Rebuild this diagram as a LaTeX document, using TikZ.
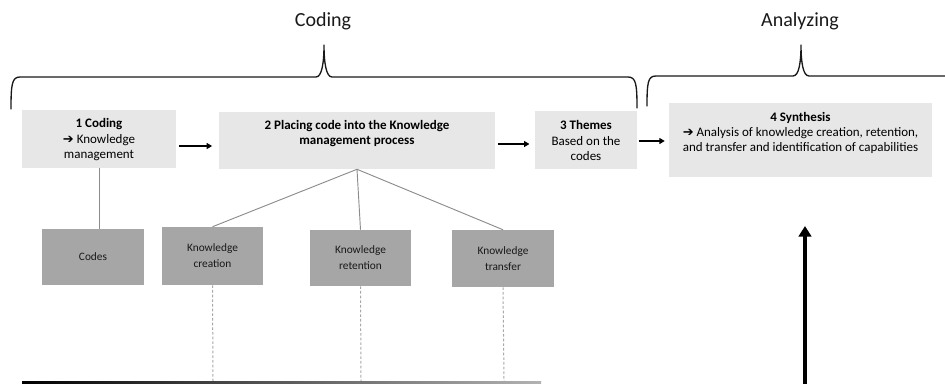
\documentclass[tikz,border=0pt]{standalone}
\usepackage{fontspec}
\setmainfont{Carlito}
\newfontfamily\arrowfont{DejaVu Sans}
\usetikzlibrary{arrows.meta}
\definecolor{boxlight}{HTML}{E7E7E7}
\definecolor{boxdark}{HTML}{A6A6A6}
\definecolor{linkgray}{HTML}{8C8C8C}
\definecolor{dashgray}{HTML}{A8A8A8}
\newcommand{\pointer}{{\arrowfont\bfseries ➔}}

\begin{document}
\begin{tikzpicture}[x=0.75pt,y=-0.75pt,
  stage/.style={fill=boxlight, draw=none, inner sep=0pt},
  stagetext/.style={inner sep=0pt, align=center, font=\fontsize{9.75}{11.6}\selectfont, text=black},
  facet/.style={fill=boxdark, draw=none, inner sep=0pt, align=center,
    font=\fontsize{8.5}{12}\selectfont, text=black!90},
  heading/.style={inner sep=0pt, font=\fontsize{15}{18}\selectfont, text=black!90},
  flow/.style={-{Triangle[length=4pt,width=4.5pt]}, line width=0.8pt},
  link/.style={draw=linkgray, line width=0.7pt},
  trace/.style={draw=dashgray, line width=0.75pt, dash pattern=on 2pt off 1.5pt},
  brace/.style={draw=black!90, line width=1pt, line cap=round, line join=round}
]
\useasboundingbox (0,0) rectangle (945,383);

% Phase headings
\node[heading] (coding) at (323,21) {Coding};
\node[heading] (analyzing) at (800,21) {Analyzing};

% Braces over the two phases
\draw[brace] (11,109) .. controls (11,84) and (12,77) .. (20,77)
  -- (316,77) .. controls (322,77) and (324,62) .. (324,45)
  .. controls (324,62) and (326,77) .. (332,77)
  -- (628,77) .. controls (636,77) and (637,84) .. (637,108);
\draw[brace] (647,106) .. controls (647,82) and (648,76) .. (656,76)
  -- (793,76) .. controls (799,76) and (801,62) .. (801,45)
  .. controls (801,62) and (803,76) .. (809,76)
  -- (946,76);

% Main steps
\node[stage, minimum width=115.5pt, minimum height=43.5pt] (b1) at (99,139) {};
\node[stagetext] (b1t) at (99,140) {\textbf{1 Coding}\\\pointer\ Knowledge\\management};

\node[stage, minimum width=207pt, minimum height=42.75pt] (b2) at (357,140.5) {};
\node[stagetext] (b2t) at (357,133.5) {\textbf{2 Placing code into the Knowledge}\\\textbf{management process}};

\node[stage, minimum width=76.5pt, minimum height=43.5pt] (b3) at (586,140) {};
\node[stagetext] (b3t) at (586,140.5) {\textbf{3 Themes}\\Based on the\\codes};

\node[stage, minimum width=197.25pt, minimum height=55.5pt] (b4) at (800.5,140) {};
\node[stagetext] (b4t) at (800.5,133) {\textbf{4 Synthesis}\\\pointer\ Analysis of knowledge creation, retention,\\and transfer and identification of capabilities};

% Flow between steps
\draw[flow, shorten >=5pt, shorten <=2pt] (b1.east|-0,146) -- (b2.west|-0,146);
\draw[flow, shorten >=4pt, shorten <=2pt] (b2.east|-0,144) -- (b3.west|-0,144);
\draw[flow, shorten >=3pt, shorten <=1pt] (b3.east|-0,141) -- (b4.west|-0,141);

% Sub-categories
\node[facet, minimum width=76.5pt, minimum height=42pt] (codes) at (93,257) {Codes};
\node[facet, minimum width=75.75pt, minimum height=43.5pt] (creation) at (212.5,256) {Knowledge\\creation};
\node[facet, minimum width=75.75pt, minimum height=42pt] (retention) at (360.5,258) {Knowledge\\retention};
\node[facet, minimum width=76.5pt, minimum height=42.75pt] (transfer) at (503,258.5) {Knowledge\\transfer};

\draw[link] (b1.south) -- (b1.south|-codes.north);
\draw[link] (b2.south) -- (creation.north);
\draw[link] (b2.south) -- (retention.north);
\draw[link] (b2.south) -- (transfer.north);

% Dashed traces down to the base bar
\coordinate (creationEnd) at (213,381);
\coordinate (retentionEnd) at (361,381);
\coordinate (transferEnd) at (504,381);
\draw[trace] (creation.south) -- (creationEnd);
\draw[trace] (retention.south) -- (retentionEnd);
\draw[trace] (transfer.south) -- (transferEnd);

% Base bar
\shade[left color=black, right color=black!30] (22,381) rectangle (541,383.5);

% Rising arrow towards the synthesis
\coordinate (riseBase) at (805,384);
\coordinate (riseTip) at (805,226);
\draw[line width=2.3pt, -{Triangle[length=8pt,width=9.5pt]}] (riseBase) -- (riseTip);
\end{tikzpicture}
\end{document}
